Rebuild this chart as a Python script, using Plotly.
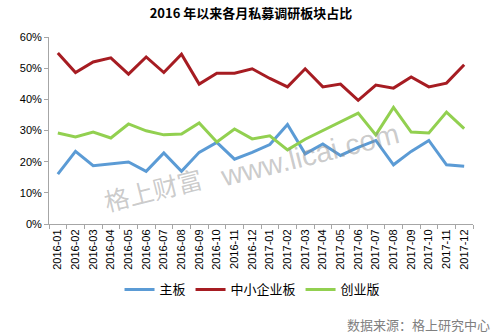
import plotly.graph_objects as go

months = [f"{y}-{m:02d}" for y in (2016, 2017) for m in range(1, 13)]

main_board = [16.0, 23.3, 18.7, 19.2, 19.9, 16.9, 22.8, 16.9, 23.0, 26.2, 20.8, 23.0,
              25.5, 31.9, 22.5, 25.7, 22.0, 24.6, 26.8, 19.0, 23.3, 26.8, 19.0, 18.5]
sme_board = [54.9, 48.6, 52.0, 53.3, 48.1, 53.6, 48.6, 54.5, 44.9, 48.4, 48.4, 49.8,
             46.7, 44.0, 49.8, 44.0, 44.9, 39.7, 44.6, 43.6, 47.2, 44.0, 45.2, 51.1]
growth_board = [29.2, 27.9, 29.5, 27.6, 32.1, 29.9, 28.6, 28.9, 32.4, 26.3, 30.5, 27.3,
                28.3, 23.8, 27.2, 30.0, 32.9, 35.6, 28.6, 37.4, 29.5, 29.2, 35.9, 30.6]

series_names = ["主板", "中小企业板", "创业版"]
series_colors = ["#5B9BD5", "#A61C22", "#92D050"]

font_cjk = "Noto Sans CJK SC"
font_lat = "Liberation Sans, Noto Sans CJK SC"

fig = go.Figure()

for name, vals, col in zip(series_names, [main_board, sme_board, growth_board], series_colors):
    fig.add_trace(go.Scatter(
        x=months, y=[v / 100 for v in vals], name=name, mode="lines",
        line=dict(color=col, width=3),
    ))

fig.update_layout(
    width=502, height=335,
    margin=dict(l=49, r=29, t=37, b=111),
    paper_bgcolor="white", plot_bgcolor="white",
    title=dict(text="<b>2016 年以来各月私募调研板块占比</b>",
               x=0.5, xanchor="center", y=1 - 13 / 335, yanchor="middle",
               font=dict(family=font_cjk, size=13, color="#000")),
    showlegend=True,
    legend=dict(orientation="h", x=0.48, xanchor="center", y=-0.35, yanchor="middle",
                font=dict(family=font_cjk, size=13, color="#000"),
                itemwidth=30, bgcolor="rgba(0,0,0,0)"),
    xaxis=dict(type="category", tickangle=-90, tickson="boundaries",
               range=[-0.5, len(months) - 0.5],
               showline=True, linecolor="#A6A6A6", linewidth=1,
               ticks="outside", ticklen=4, tickcolor="#A6A6A6",
               showgrid=False, zeroline=False,
               tickfont=dict(family=font_lat, size=11, color="#000")),
    yaxis=dict(range=[0, 0.6], dtick=0.1, tickformat=".0%",
               showline=True, linecolor="#A6A6A6", linewidth=1,
               ticks="outside", ticklen=4, tickcolor="#A6A6A6",
               showgrid=False, zeroline=False,
               tickfont=dict(family=font_lat, size=11, color="#000")),
)

# watermark (brand name + site), tilted and translucent
wm_color = "rgba(140,140,140,0.45)"
fig.add_annotation(text="格上财富", xref="paper", yref="paper",
                   x=0.246, y=0.185, xanchor="center", yanchor="middle",
                   showarrow=False, textangle=-14,
                   font=dict(family=font_cjk, size=25, color=wm_color))
fig.add_annotation(text="www.licai.com", xref="paper", yref="paper",
                   x=0.614, y=0.37, xanchor="center", yanchor="middle",
                   showarrow=False, textangle=-14,
                   font=dict(family="Liberation Sans", size=29, color=wm_color))

# source note
fig.add_annotation(text="数据来源：格上研究中心", xref="paper", yref="paper",
                   x=1.045, xanchor="right", y=-0.54, yanchor="middle", showarrow=False,
                   font=dict(family=font_cjk, size=13, color="#808080"))

fig.write_html("out.html")
